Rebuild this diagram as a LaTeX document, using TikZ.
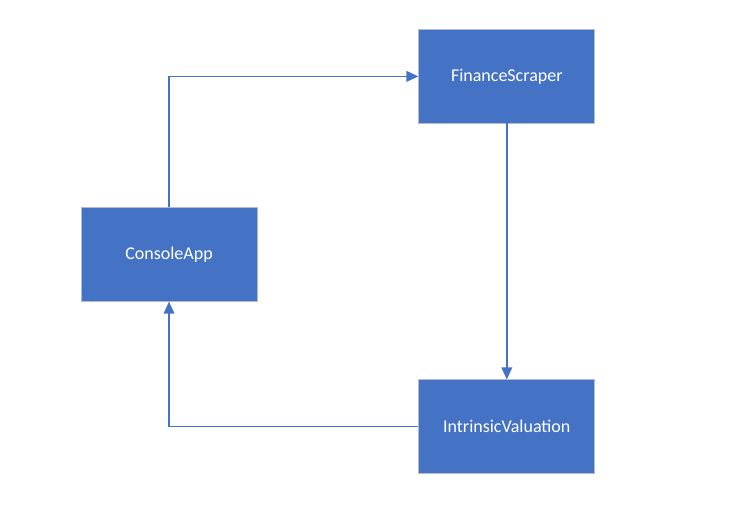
\documentclass[tikz,border=0pt]{standalone}
\usepackage{fontspec}
\setmainfont{Carlito}
\usetikzlibrary{positioning,arrows.meta}
\definecolor{boxblue}{HTML}{4472C4}
\definecolor{boxedge}{HTML}{B4BCC8}

\begin{document}
\begin{tikzpicture}[
  module/.style={rectangle, fill=boxblue, draw=boxedge, line width=0.6pt,
    minimum width=132pt, minimum height=70pt, inner sep=0pt,
    text=white, font=\fontsize{13.5}{16}\selectfont},
  link/.style={draw=boxblue, line width=1.1pt,
    -{Triangle[length=9pt,width=8pt]}}
]
\useasboundingbox (-126.75pt,-190.1pt) rectangle (432.75pt,190.9pt);
\node[module](consoleapp){ConsoleApp};
\node[module, above right=63pt and 120.75pt of consoleapp](scraper){FinanceScraper};
\node[module, below=192pt of scraper](valuation){IntrinsicValuation};
\draw[link](consoleapp.north) |- (scraper.west);
\draw[link](scraper.south) -- (valuation.north);
\draw[link](valuation.west) -| (consoleapp.south);
\end{tikzpicture}
\end{document}
